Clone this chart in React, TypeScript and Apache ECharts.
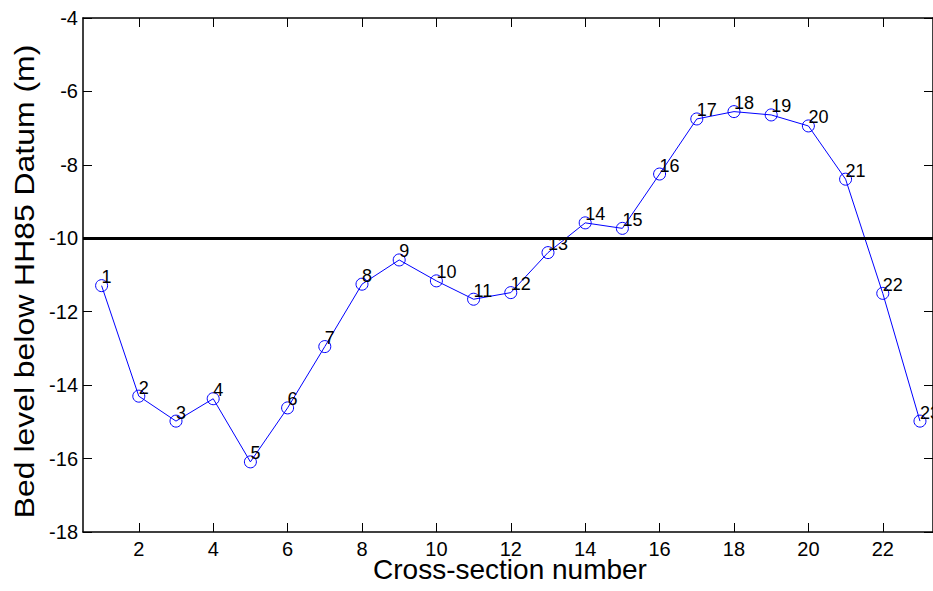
import React, { useEffect, useRef } from "react";
import * as echarts from "echarts";

const sections = [1, 2, 3, 4, 5, 6, 7, 8, 9, 10, 11, 12, 13, 14, 15, 16, 17, 18, 19, 20, 21, 22, 23];
const bedLevel = [
  -11.29, -14.3, -14.98, -14.37, -16.09, -14.62, -12.95, -11.25, -10.59, -11.16, -11.66, -11.48,
  -10.39, -9.58, -9.73, -8.25, -6.75, -6.55, -6.64, -6.94, -8.39, -11.5, -14.98,
];
const xTicks = [2, 4, 6, 8, 10, 12, 14, 16, 18, 20, 22];
const datumLevel = -10;
const xTitle = "Cross-section number";
const yTitle = "Bed level below HH85 Datum (m)";

const FONT = "Liberation Sans";

export default function App() {
  const ref = useRef<HTMLDivElement>(null);
  useEffect(() => {
    if (!ref.current) return;
    const chart = echarts.init(ref.current, null, { renderer: "svg" });
    const axisLine = { show: true, lineStyle: { color: "#000", width: 1.5 } };
    const data = sections.map((s, i) => [s, bedLevel[i]]);
    chart.setOption({
      animation: false,
      backgroundColor: "#fff",
      grid: { left: 83, top: 18, right: 0, bottom: 59, containLabel: false },
      xAxis: [
        {
          type: "value",
          position: "bottom",
          min: 0.5,
          max: 23.35,
          axisLine,
          axisTick: { show: true, inside: true, length: 9, customValues: xTicks, lineStyle: { color: "#000", width: 1 } },
          axisLabel: { customValues: xTicks, color: "#000", fontSize: 20, fontFamily: FONT, margin: 9, lineHeight: 16 },
          splitLine: { show: false },
        },
        {
          type: "value",
          position: "top",
          min: 0.5,
          max: 23.35,
          axisLine,
          axisTick: { show: true, inside: true, length: 9, customValues: xTicks, lineStyle: { color: "#000", width: 1 } },
          axisLabel: { show: false },
          splitLine: { show: false },
        },
      ],
      yAxis: [
        {
          type: "value",
          position: "left",
          min: -18,
          max: -4,
          interval: 2,
          axisLine,
          axisTick: { show: true, inside: true, length: 9, lineStyle: { color: "#000", width: 1 } },
          axisLabel: { color: "#000", fontSize: 20, fontFamily: FONT, margin: 5 },
          splitLine: { show: false },
        },
        {
          type: "value",
          position: "right",
          min: -18,
          max: -4,
          interval: 2,
          axisLine,
          axisTick: { show: true, inside: true, length: 9, lineStyle: { color: "#000", width: 1 } },
          axisLabel: { show: false },
          splitLine: { show: false },
        },
      ],
      graphic: [
        {
          type: "text",
          x: 510,
          y: 569,
          style: {
            text: xTitle,
            fill: "#000",
            fontSize: 28,
            fontFamily: FONT,
            lineHeight: 20,
            align: "center",
            verticalAlign: "middle",
          },
        },
        {
          type: "text",
          x: 24,
          y: 281.5,
          rotation: Math.PI / 2,
          scaleX: 1.14,
          style: {
            text: yTitle,
            fill: "#000",
            fontSize: 28,
            fontFamily: FONT,
            align: "center",
            verticalAlign: "middle",
          },
        },
      ],
      series: [
        {
          type: "line",
          data,
          xAxisIndex: 0,
          yAxisIndex: 0,
          symbol: "circle",
          symbolSize: 12,
          showAllSymbol: true,
          lineStyle: { color: "#0000ff", width: 1 },
          itemStyle: { color: "rgba(0,0,0,0)", borderColor: "#0000ff", borderWidth: 1 },
          label: {
            show: true,
            formatter: (p: any) => String(p.value[0]),
            position: [6.5, 7],
            align: "left",
            verticalAlign: "bottom",
            color: "#000",
            fontSize: 18,
            fontFamily: FONT,
          },
          labelLayout: { hideOverlap: false },
          markLine: {
            silent: true,
            symbol: "none",
            label: { show: false },
            lineStyle: { color: "#000", width: 3, type: "solid" },
            data: [{ yAxis: datumLevel }],
          },
          z: 2,
        },
      ],
    });
    return () => chart.dispose();
  }, []);
  return <div ref={ref} style={{ position: "fixed", left: 0, top: 0, width: 933, height: 591 }} />;
}
